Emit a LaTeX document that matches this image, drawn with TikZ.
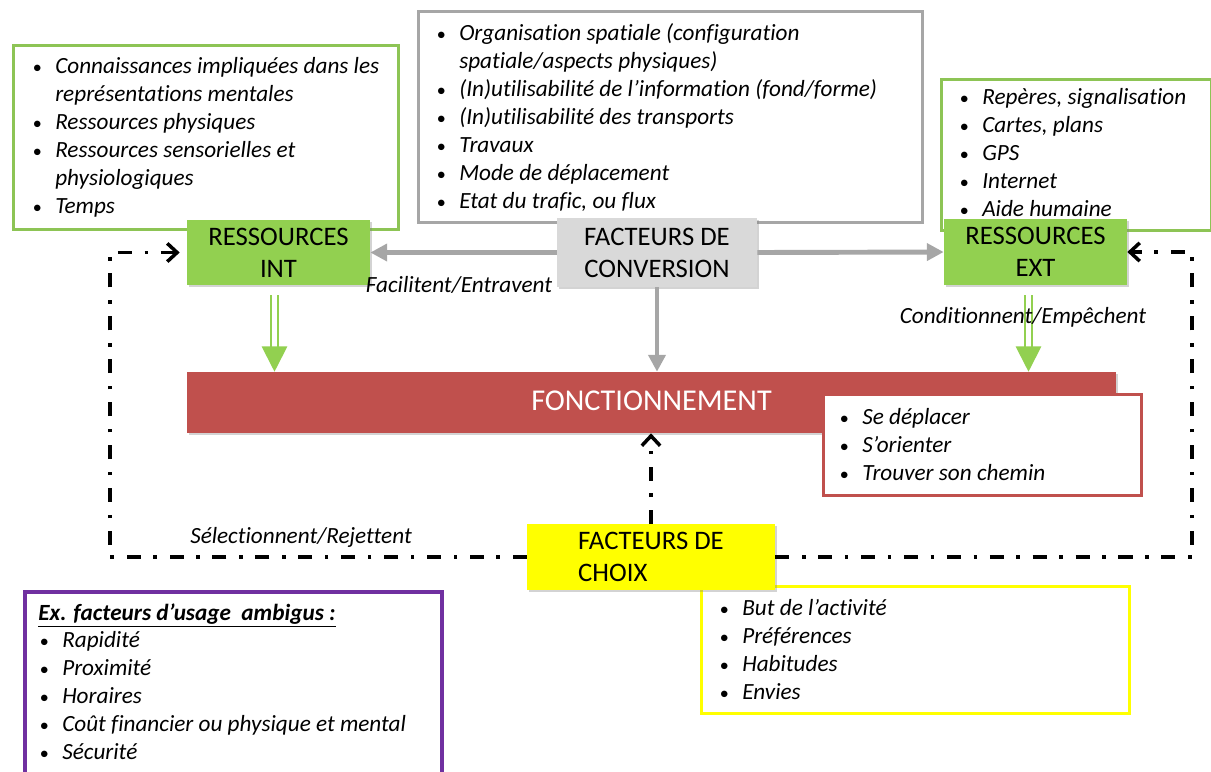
\documentclass[tikz,border=0pt]{standalone}
\usepackage{fontspec}
\setmainfont{Carlito}[Ligatures=NoCommon]
\usetikzlibrary{arrows.meta,shadows}

\definecolor{vert}{HTML}{92D050}
\definecolor{vertbord}{HTML}{8DC455}
\definecolor{gris}{HTML}{D9D9D9}
\definecolor{grisbord}{HTML}{A6A6A6}
\definecolor{rouge}{HTML}{C0504D}
\definecolor{jaune}{HTML}{FFFF00}
\definecolor{violet}{HTML}{7030A0}

\newcommand{\puce}{\makebox[0.6cm][l]{\hspace{1pt}{\fontsize{13}{13}\selectfont\textbullet}}}
\newcommand{\suite}{\hspace*{0.6cm}}

\begin{document}
\begin{tikzpicture}[x=0.025cm,y=-0.025cm,>=latex,
	boite/.style={align=center, inner sep=0pt, font=\fontsize{19}{22.8}\selectfont,
		drop shadow={shadow xshift=1.5pt, shadow yshift=-1.5pt, opacity=0.35}},
	cadre/.style={draw, anchor=north west, inner sep=0pt, line width=2pt},
	liste/.style={align=left, anchor=north west, inner sep=0pt, font=\fontsize{16.5}{19.9}\selectfont\itshape},
	etiquette/.style={font=\fontsize{16.5}{19.9}\selectfont\itshape, inner sep=0pt},
	flechegrise/.style={draw=grisbord, line width=3.5pt, -{Triangle[length=12pt,width=12pt]}},
	flecheverte/.style={draw=vert, double=white, line width=1.4pt, double distance=3.6pt,
		-{Triangle[length=18pt,width=18pt]}, shorten <=7pt},
	tiretpoint/.style={draw=black, line width=2.5pt, dash pattern=on 10pt off 9pt on 2.5pt off 9pt,
		-{Straight Barb[length=7pt,width=13pt]}}]
	\useasboundingbox (0,0) rectangle (1211,771);

	% cadres de listes
	\node[cadre, draw=vertbord, minimum width=9.625cm, minimum height=4.6cm] (cadreint) at (12,44) {};
	\node[liste] (txtint) at (31,57) {\puce Connaissances impliquées dans les\\ \suite représentations mentales\\ \puce Ressources physiques\\ \puce Ressources sensorielles et\\ \suite physiologiques\\ \puce Temps};
	\node[cadre, draw=grisbord, minimum width=12.6cm, minimum height=5.275cm] (cadreconv) at (417,10) {};
	\node[liste] (txtconv) at (435,23) {\puce Organisation spatiale (configuration\\ \suite spatiale/aspects physiques)\\ \puce (In)utilisabilité de l’information (fond/forme)\\ \puce (In)utilisabilité des transports\\ \puce Travaux\\ \puce Mode de déplacement\\ \puce Etat du trafic, ou flux};
	\node[cadre, draw=vertbord, minimum width=6.75cm, minimum height=3.775cm] (cadreext) at (940,78) {};
	\node[liste] (txtext) at (958,88) {\puce Repères, signalisation\\ \puce Cartes, plans\\ \puce GPS\\ \puce Internet\\ \puce Aide humaine};

	% boites principales
	\node[boite, fill=vert, minimum width=4.575cm, minimum height=1.625cm] (rint) at (278.5,252.5) {RESSOURCES\\INT};
	\node[boite, fill=gris, minimum width=5cm, minimum height=1.725cm] (conv) at (657,252.5) {FACTEURS DE\\CONVERSION};
	\node[boite, fill=vert, minimum width=4.575cm, minimum height=1.65cm] (rext) at (1035.5,252) {RESSOURCES\\EXT};
	\node[boite, fill=rouge, text=white, font=\fontsize{21.5}{24}\selectfont, minimum width=23.225cm, minimum height=1.525cm] (fonc) at (651.5,402.5) {\raisebox{0.1cm}{FONCTIONNEMENT}};
	\node[cadre, draw=rouge, fill=white, minimum width=7.95cm, minimum height=2.525cm] (cadrefonc) at (822,393) {};
	\node[liste] (txtfonc) at (838,408) {\puce Se déplacer\\ \puce S’orienter\\ \puce Trouver son chemin};

	\node[cadre, draw=jaune, line width=2.2pt, minimum width=10.7cm, minimum height=3.175cm] (cadrechoix) at (700,585) {};
	\node[liste] (txtchoix) at (718,599) {\puce But de l’activité\\ \puce Préférences\\ \puce Habitudes\\ \puce Envies};
	\node[boite, fill=jaune, align=left, minimum width=6.2cm, minimum height=1.65cm] (choix) at (651,557) {FACTEURS DE\\CHOIX};

	\node[cadre, draw=violet, line width=2.8pt, minimum width=10.425cm, minimum height=5.5cm] (cadreusage) at (23,590) {};
	\node[liste] (txtusage) at (38,603) {\textbf{\underline{Ex. facteurs d’usage\ \ ambigus :}}\\ \puce Rapidité\\ \puce Proximité\\ \puce Horaires\\ \puce Coût financier ou physique et mental\\ \puce Sécurité};

	% fleches
	\draw[flechegrise] (conv.west) -- (rint.east);
	\draw[flechegrise] (conv.east) -- (rext.west);
	\draw[flechegrise] (conv.south) -- (conv.south |- fonc.north);
	\draw[flecheverte] ([xshift=-0.1cm]rint.south) -- ([xshift=-0.1cm]rint.south |- fonc.north);
	\draw[flecheverte] ([xshift=-0.175cm]rext.south) -- ([xshift=-0.175cm]rext.south |- fonc.north);
	\draw[tiretpoint] (choix.north) -- (choix.north |- fonc.south);
	\coordinate (gauche) at (110,400);
	\coordinate (droite) at (1192,400);
	\draw[tiretpoint, shorten >=5pt] (choix.west) -| (gauche) |- (rint.west);
	\draw[tiretpoint] (choix.east) -| (droite) |- (rext.east);

	\node[etiquette] (lblconv) at (459,285) {Facilitent/Entravent};
	\node[etiquette] (lblext) at (1023,317) {Conditionnent/Empêchent};
	\node[etiquette] (lblchoix) at (301,537) {Sélectionnent/Rejettent};
\end{tikzpicture}
\end{document}
